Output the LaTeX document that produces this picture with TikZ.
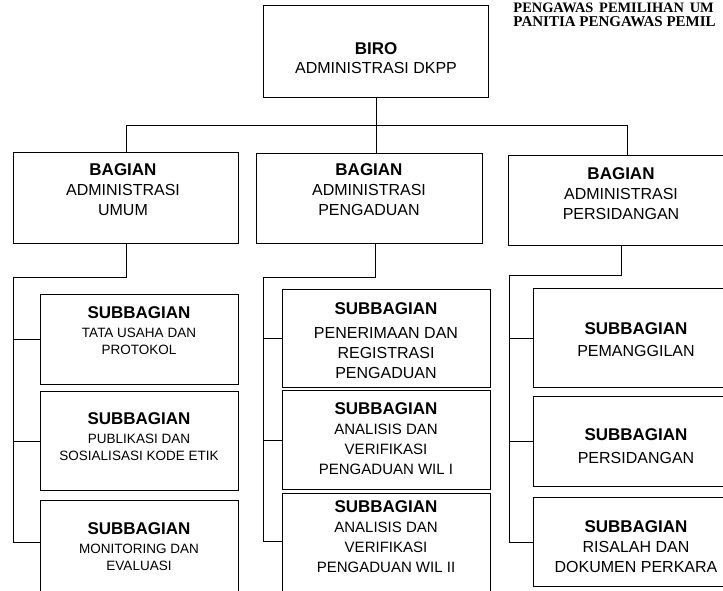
\documentclass[tikz,border=0pt]{standalone}
\usepackage{fontspec}
\setmainfont{Liberation Sans}
\newfontfamily\headserif{Liberation Serif}
\usetikzlibrary{calc}
\newcommand{\ttlfont}{\fontsize{17}{20}\selectfont\bfseries}

\tikzset{
	box/.style={draw, rectangle, inner sep=0pt, anchor=north west},
	txt/.style={inner sep=0pt, align=center, anchor=north},
}

\begin{document}
\begin{tikzpicture}[x=1pt, y=-1pt, line width=0.9pt]
			%%%%% START %%%%%
			\useasboundingbox (0,0) rectangle (723,590);
			\clip (0,0) rectangle (723,590);
			
			\node[anchor=base west, inner sep=0pt, font=\headserif\bfseries\fontsize{14.4}{15}\selectfont] (pw1) at (513,12) {PENGAWAS\hspace{0.4em}PEMILIHAN\hspace{0.4em}UM};
			\node[anchor=base west, inner sep=0pt, font=\headserif\bfseries\fontsize{15}{15}\selectfont] (pw2) at (513,26) {PANITIA PENGAWAS PEMIL};
			
			\node[box, minimum width=225pt, minimum height=92pt] (biro) at (263,5) {};
			\node[txt, font=\fontsize{16}{16}\selectfont] (birot) at (376,42) {{\ttlfont BIRO}\\[3pt] ADMINISTRASI DKPP};
			
			\node[box, minimum width=225pt, minimum height=91pt] (umum) at (13,152) {};
			\node[box, minimum width=226pt, minimum height=90pt] (peng) at (256,153) {};
			\node[box, minimum width=226pt, minimum height=90pt] (pers) at (508,155) {};
			\node[txt, font=\fontsize{16}{20}\selectfont] (umumt) at (123,163) {{\ttlfont BAGIAN}\\ ADMINISTRASI\\ UMUM};
			\node[txt, font=\fontsize{16}{20}\selectfont] (pengt) at (369,163) {{\ttlfont BAGIAN}\\ ADMINISTRASI\\ PENGADUAN};
			\node[txt, font=\fontsize{16}{20}\selectfont] (perst) at (621,167) {{\ttlfont BAGIAN}\\ ADMINISTRASI\\ PERSIDANGAN};
			
			\draw (biro.south) -- (biro.south |- peng.north);
			\coordinate (br) at (627,125);
			\draw (umum.north) |- (br) -- (br |- pers.north);
			
			% umum
			\node[box, minimum width=198pt, minimum height=90pt] (u1) at (40,294) {};
			\node[box, minimum width=198pt, minimum height=99pt] (u2) at (40,391) {};
			\node[box, minimum width=198pt, minimum height=110pt] (u3) at (40,500) {};
			\node[txt, font=\fontsize{13.5}{17.5}\selectfont] (u1t) at (139,306) {{\ttlfont SUBBAGIAN}\\[1.5pt] TATA USAHA DAN\\ PROTOKOL};
			\node[txt, font=\fontsize{13.5}{17.5}\selectfont] (u2t) at (139,412) {{\ttlfont SUBBAGIAN}\\[1.5pt] PUBLIKASI DAN\\ SOSIALISASI KODE ETIK};
			\node[txt, font=\fontsize{13.5}{17.5}\selectfont] (u3t) at (139,522) {{\ttlfont SUBBAGIAN}\\[1.5pt] MONITORING DAN\\ EVALUASI};
			\coordinate (k1) at (13,277);
			\coordinate (u3s) at ([yshift=-42pt]u3.north west);
			\draw (umum.south) |- (k1) -- (k1 |- u3s);
			\draw (k1 |- u1.west) -- (u1.west);
			\draw (k1 |- u2.west) -- (u2.west);
			\draw (k1 |- u3s) -- (u3s);
			
			% pengaduan
			\node[box, minimum width=208pt, minimum height=98pt] (a1) at (282,289) {};
			\node[box, minimum width=208pt, minimum height=99pt] (a2) at (282,390) {};
			\node[box, minimum width=208pt, minimum height=110pt] (a3) at (282,493) {};
			\node[txt, font=\fontsize{16}{20}\selectfont] (a1t) at (386,302) {{\ttlfont SUBBAGIAN}\\[4pt] PENERIMAAN DAN\\ REGISTRASI\\ PENGADUAN};
			\node[txt, font=\fontsize{15}{20}\selectfont] (a2t) at (386,402) {{\ttlfont SUBBAGIAN}\\ ANALISIS DAN\\ VERIFIKASI\\ PENGADUAN WIL I};
			\node[txt, font=\fontsize{15}{20}\selectfont] (a3t) at (386,500) {{\ttlfont SUBBAGIAN}\\ ANALISIS DAN\\ VERIFIKASI\\ PENGADUAN WIL II};
			\coordinate (k2) at (263,277);
			\coordinate (a3s) at ([yshift=-48pt]a3.north west);
			\draw ([xshift=6pt]peng.south) |- (k2) -- (k2 |- a3s);
			\draw (k2 |- a1.west) -- (a1.west);
			\draw (k2 |- a2.west) -- (a2.west);
			\draw (k2 |- a3s) -- (a3s);
			
			% persidangan
			\node[box, minimum width=208pt, minimum height=99pt] (s1) at (533,288) {};
			\node[box, minimum width=208pt, minimum height=90pt] (s2) at (533,396) {};
			\node[box, minimum width=208pt, minimum height=89pt] (s3) at (533,497) {};
			\node[txt, font=\fontsize{16}{20}\selectfont] (s1t) at (636,322) {{\ttlfont SUBBAGIAN}\\[2pt] PEMANGGILAN};
			\node[txt, font=\fontsize{16}{20}\selectfont] (s2t) at (636,428) {{\ttlfont SUBBAGIAN}\\[3pt] PERSIDANGAN};
			\node[txt, font=\fontsize{16}{20}\selectfont] (s3t) at (636,520) {{\ttlfont SUBBAGIAN}\\ RISALAH DAN\\ DOKUMEN PERKARA};
			\coordinate (k3) at (509,275);
			\draw (pers.south) |- (k3) -- (k3 |- s3.west);
			\draw (k3 |- s1.west) -- (s1.west);
			\draw (k3 |- s2.west) -- (s2.west);
			\draw (k3 |- s3.west) -- (s3.west);
			%%%%% END %%%%%
\end{tikzpicture}
\end{document}
